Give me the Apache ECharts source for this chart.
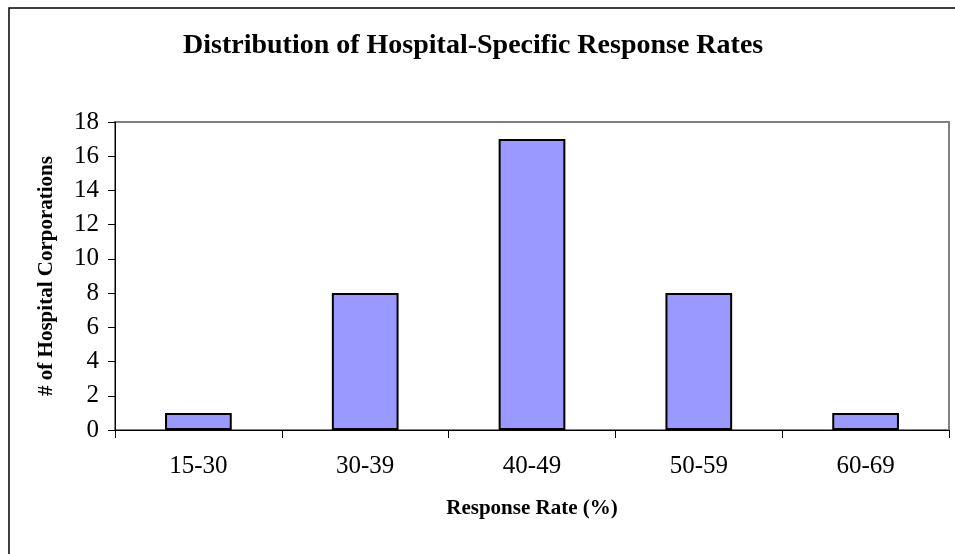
<!DOCTYPE html>
<html>
<head>
<meta charset="utf-8">
<script src="https://cdn.jsdelivr.net/npm/echarts@6/dist/echarts.min.js"></script>
<style>
html, body { margin: 0; padding: 0; background: #fff; }
#chart { width: 955px; height: 554px; }
</style>
</head>
<body>
<div id="chart"></div>
<script>
var categories = ['15-30', '30-39', '40-49', '50-59', '60-69'];
var counts = [1, 8, 17, 8, 1];
var yTicks = [0, 18, 2]; // min, max, step

var serif = '"Liberation Serif", "Times New Roman", serif';

var chart = echarts.init(document.getElementById('chart'));

chart.setOption({
	animation: false,
	backgroundColor: '#fff',
	title: {
		text: 'Distribution of Hospital-Specific Response Rates',
		left: 178,
		top: 27,
		textStyle: { fontFamily: serif, fontSize: 28, fontWeight: 'bold', color: '#000' }
	},
	grid: {
		left: 115, top: 122, right: 6, bottom: 124,
		show: true, borderColor: '#808080', borderWidth: 2
	},
	xAxis: {
		type: 'category',
		data: categories,
		name: 'Response Rate (%)',
		nameLocation: 'middle',
		nameGap: 68,
		nameTextStyle: { fontFamily: serif, fontSize: 21, fontWeight: 'bold', color: '#000' },
		axisLine: { lineStyle: { color: '#000', width: 1 } },
		axisTick: { show: true, length: 8, inside: false, lineStyle: { color: '#000' } },
		axisLabel: { margin: 24, fontFamily: serif, fontSize: 25, color: '#000' }
	},
	yAxis: {
		type: 'value',
		min: yTicks[0],
		max: yTicks[1],
		interval: yTicks[2],
		name: '# of Hospital Corporations',
		nameLocation: 'middle',
		nameGap: 58,
		nameTextStyle: { fontFamily: serif, fontSize: 21, fontWeight: 'bold', color: '#000' },
		axisLine: { show: true, lineStyle: { color: '#000', width: 1 } },
		axisTick: { show: true, length: 7, lineStyle: { color: '#000' } },
		axisLabel: { margin: 16, fontFamily: serif, fontSize: 25, color: '#000' },
		splitLine: { show: false }
	},
	series: [{
		type: 'bar',
		data: counts,
		barWidth: '40%',
		itemStyle: { color: '#9999FF', borderColor: '#000', borderWidth: 2 }
	}],
	graphic: [{
		type: 'rect',
		shape: { x: 9, y: 8, width: 1000, height: 600 },
		style: { fill: null, stroke: '#000', lineWidth: 1.5 },
		silent: true,
		z: -1
	}]
});
</script>
</body>
</html>
